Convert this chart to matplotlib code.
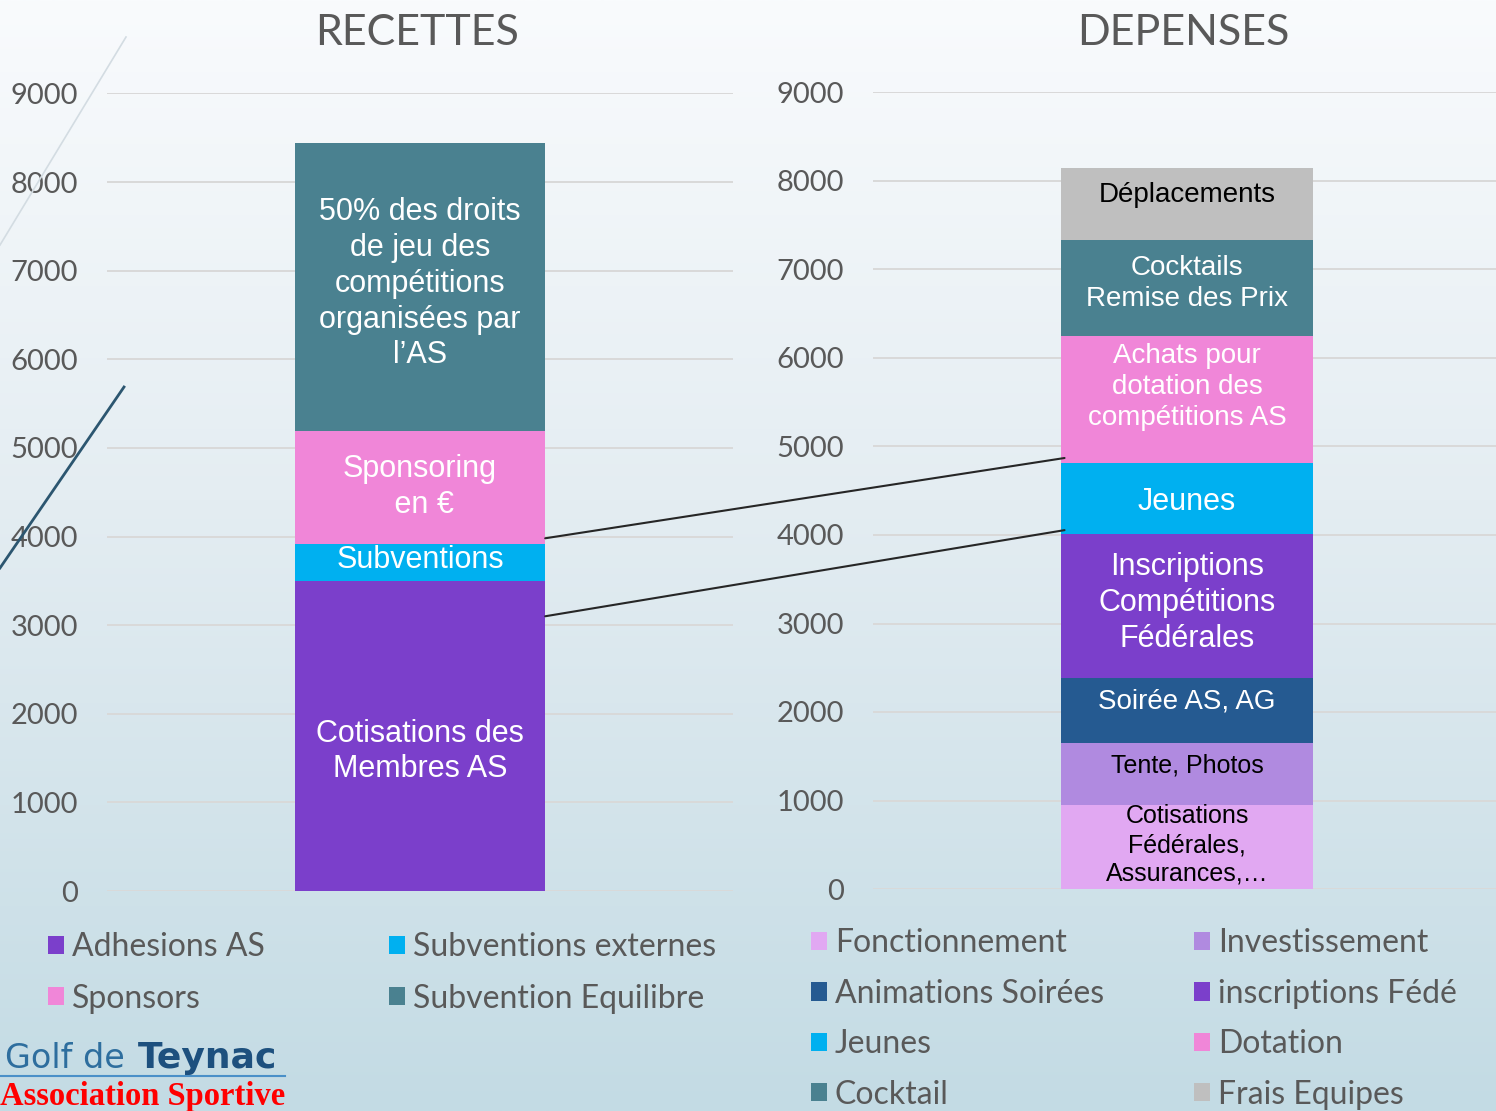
import numpy as np
import matplotlib
matplotlib.use("Agg")
import matplotlib.pyplot as plt
from matplotlib.patches import ConnectionPatch
from matplotlib.lines import Line2D

# ---------------- data ----------------
rec_series = ["Adhesions AS", "Subventions externes", "Sponsors", "Subvention Equilibre"]
rec_values = [3500, 420, 1270, 3250]
rec_colors = ["#7B3FCB", "#00B0F0", "#F086D8", "#4A8190"]
rec_labels = ["Cotisations des\nMembres AS", "Subventions", "Sponsoring\n en €",
              "50% des droits\nde jeu des\ncompétitions\norganisées par\nl’AS"]
rec_label_colors = ["white", "white", "white", "white"]
rec_label_offsets = [-177, 25, 0, 35]

dep_series = ["Fonctionnement", "Investissement", "Animations Soirées", "inscriptions Fédé",
              "Jeunes", "Dotation", "Cocktail", "Frais Equipes"]
dep_values = [950, 700, 735, 1625, 805, 1435, 1085, 815]
dep_colors = ["#E1A8F2", "#B08AE0", "#255A91", "#7B3FCB",
              "#00B0F0", "#F086D8", "#4A8190", "#BFBFBF"]
dep_labels = ["Cotisations\nFédérales,\nAssurances,…", "Tente, Photos", "Soirée AS, AG",
              "Inscriptions\nCompétitions\nFédérales", "Jeunes",
              "Achats pour\ndotation des\ncompétitions AS", "Cocktails\nRemise des Prix",
              "Déplacements"]
dep_label_colors = ["black", "black", "white", "white", "white", "white", "white", "black"]
dep_label_sizes = [18, 18, 20, 22, 22, 20, 20, 20]
dep_label_offsets = [20, 100, 105, 35, -40, 135, 45, 100]

yticks = [0, 1000, 2000, 3000, 4000, 5000, 6000, 7000, 8000, 9000]

W, H = 1496, 1111
fig = plt.figure(figsize=(W / 100, H / 100), dpi=100)

# background gradient
bg = fig.add_axes([0, 0, 1, 1], zorder=-10)
top = np.array([0xF9, 0xFB, 0xFD]) / 255
mid = np.array([0xE4, 0xED, 0xF2]) / 255
bot = np.array([0xC3, 0xDB, 0xE4]) / 255
t = np.linspace(0, 1, 400)[:, None]
grad = np.where(t < 0.45, top + (mid - top) * (t / 0.45), mid + (bot - mid) * ((t - 0.45) / 0.55))
bg.imshow(grad[:, None, :].repeat(2, axis=1), aspect="auto", extent=[0, 1, 0, 1])
bg.set_axis_off()

TXT = "#595959"
TICKFONT = "Lato"
LABFONT = "Liberation Sans"


def px(x, y):
    return x / W, 1 - y / H


def style_axes(ax):
    ax.set_facecolor("none")
    ax.set_xlim(-0.5, 0.5)
    ax.set_ylim(0, 9000)
    ax.set_yticks(yticks)
    ax.set_xticks([])
    for s in ax.spines.values():
        s.set_visible(False)
    ax.grid(axis="y", color="#D9D9D9", linewidth=1.4)
    ax.set_axisbelow(True)
    ax.tick_params(axis="y", length=0, pad=21, labelsize=21, labelcolor=TXT)
    for lab in ax.get_yticklabels():
        lab.set_fontfamily(TICKFONT)


ax1 = fig.add_axes([107 / W, (H - 891) / H, 626 / W, (891 - 93.4) / H])
ax2 = fig.add_axes([873 / W, (H - 889) / H, 628 / W, (889 - 92.5) / H])
style_axes(ax1)
style_axes(ax2)

# left stacked bar
bottom = 0
rec_handles = []
for name, v, c, lab, lc, off in zip(rec_series, rec_values, rec_colors, rec_labels,
                                    rec_label_colors, rec_label_offsets):
    b = ax1.bar(0, v, width=0.4, bottom=bottom, color=c, label=name, zorder=3)
    rec_handles.append(b[0])
    ax1.text(0, bottom + v / 2 + off, lab, ha="center", va="center", color=lc, fontsize=22,
             family=LABFONT, linespacing=1.25, zorder=4)
    bottom += v

# right stacked bar
bottom = 0
dep_handles = []
for name, v, c, lab, lc, fs, off in zip(dep_series, dep_values, dep_colors, dep_labels,
                                        dep_label_colors, dep_label_sizes, dep_label_offsets):
    b = ax2.bar(0, v, width=0.4, bottom=bottom, color=c, label=name, zorder=3)
    dep_handles.append(b[0])
    ax2.text(0, bottom + v / 2 + off, lab, ha="center", va="center", color=lc, fontsize=fs,
             family=LABFONT, linespacing=1.25, zorder=4)
    bottom += v

# titles
fig.text(*px(417, 33), "RECETTES", ha="center", va="center", fontsize=31,
         color=TXT, family=TICKFONT)
fig.text(*px(1183, 33), "DEPENSES", ha="center", va="center", fontsize=31,
         color=TXT, family=TICKFONT)

# connector lines
for (y1, y2) in [(3980, 4870), (3100, 4055)]:
    con = ConnectionPatch(xyA=(0.2, y1), coordsA=ax1.transData,
                          xyB=(-0.195, y2), coordsB=ax2.transData,
                          color="#262626", linewidth=1.5, zorder=10)
    fig.add_artist(con)

# decorative slide lines
fig.add_artist(Line2D([126 / W, 0], [1 - 37 / H, 1 - 245 / H], transform=fig.transFigure,
                      color="#D3DCE2", linewidth=1.2, zorder=1))
fig.add_artist(Line2D([124 / W, 0], [1 - 387 / H, 1 - 568 / H], transform=fig.transFigure,
                      color="#2C5670", linewidth=2, zorder=1))

# legends
def make_leg(handles, labels, x, yc, spacing):
    leg = fig.legend(handles, labels, loc="center left", bbox_to_anchor=px(x, yc),
                     frameon=False, borderpad=0, borderaxespad=0, ncol=1,
                     handlelength=0.5, handleheight=0.5, handletextpad=0.25,
                     labelspacing=spacing,
                     prop={"family": TICKFONT, "size": 23})
    for tx in leg.get_texts():
        tx.set_color(TXT)
    return leg

make_leg([rec_handles[0], rec_handles[2]], [rec_series[0], rec_series[2]], 48, 973, 0.66)
make_leg([rec_handles[1], rec_handles[3]], [rec_series[1], rec_series[3]], 389, 973, 0.66)
make_leg([dep_handles[i] for i in (0, 2, 4, 6)], [dep_series[i] for i in (0, 2, 4, 6)],
         811, 1019, 0.64)
make_leg([dep_handles[i] for i in (1, 3, 5, 7)], [dep_series[i] for i in (1, 3, 5, 7)],
         1194, 1019, 0.64)

# logo
fig.text(*px(125, 1058), "Golf de", ha="right", va="center", fontsize=24,
         color="#2E6E9E", family="DejaVu Sans")
fig.text(*px(138, 1058), "Teynac", ha="left", va="center", fontsize=26,
         color="#1D507E", family="DejaVu Sans", fontweight="bold")
fig.add_artist(Line2D([0, 285 / W], [1 - 1076 / H, 1 - 1076 / H], transform=fig.transFigure,
                      color="#4A90C8", linewidth=1.5))
fig.text(*px(0, 1096), "Association Sportive", ha="left", va="center", fontsize=23.5,
         color="#FF0000", family="Liberation Serif", fontweight="bold")

fig.savefig("out.png", dpi=100)
